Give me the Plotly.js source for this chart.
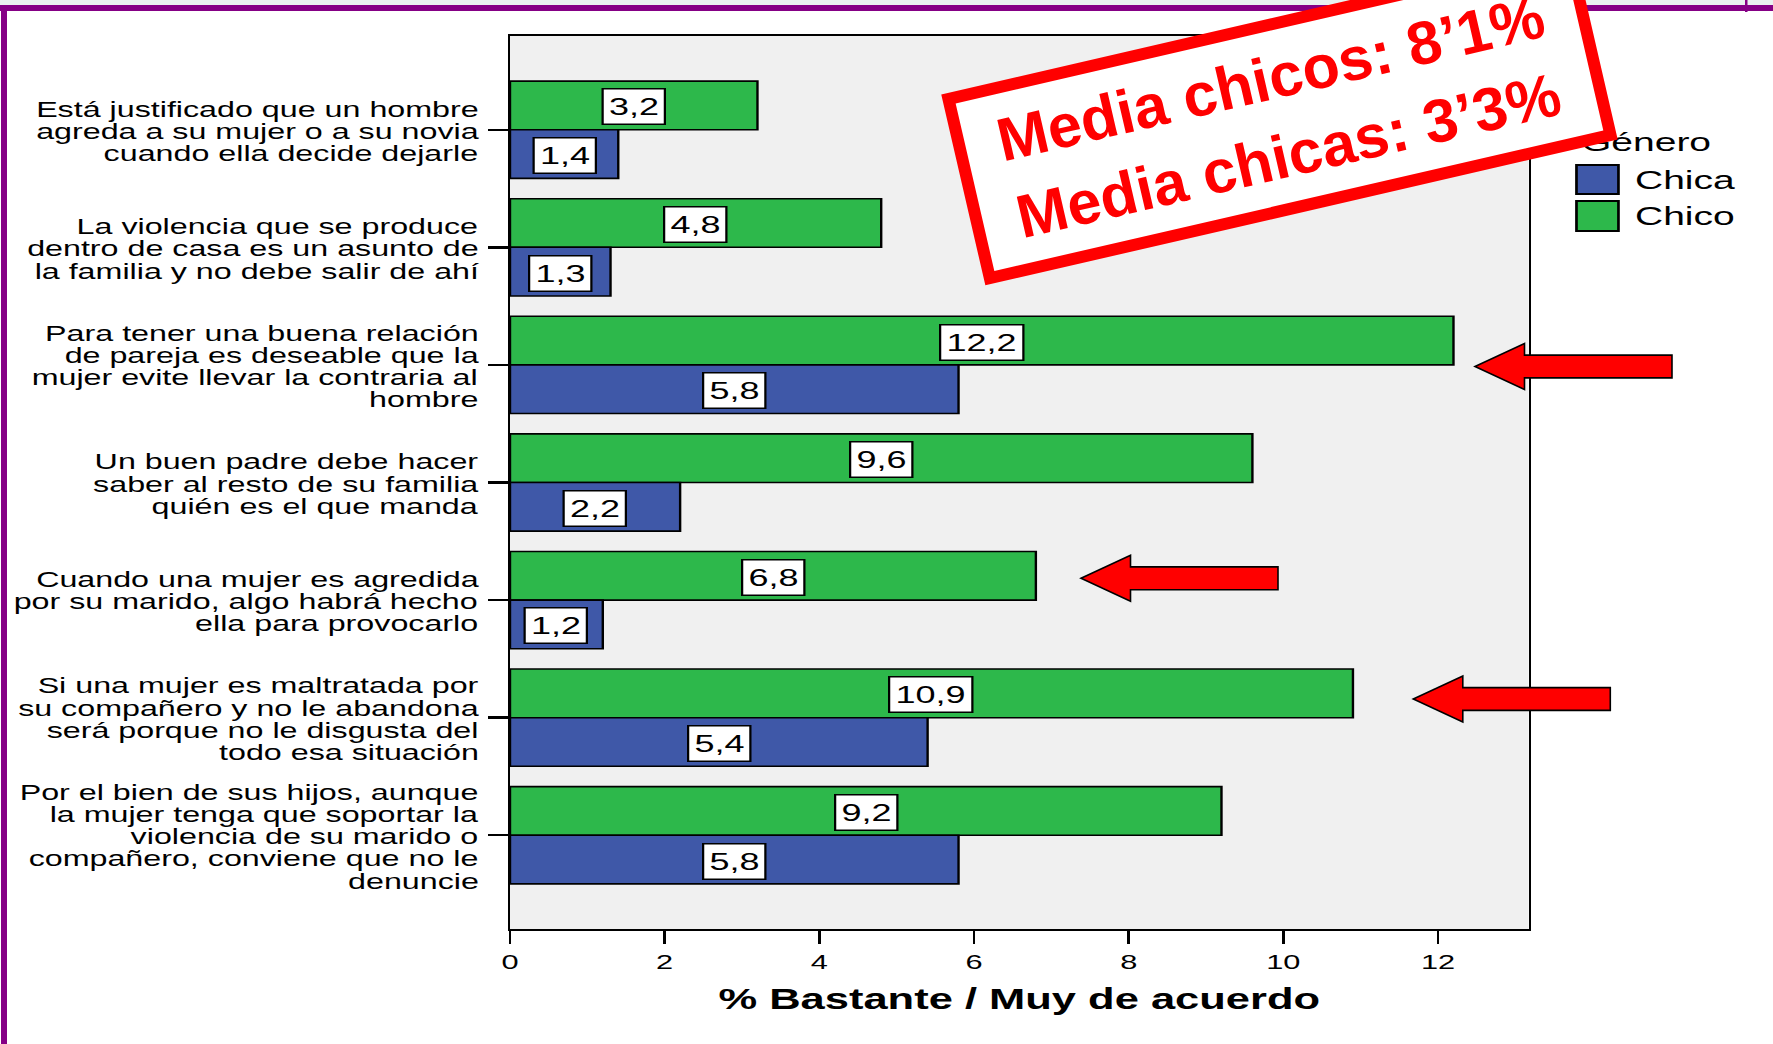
<!DOCTYPE html>
<html>
<head>
<meta charset="utf-8">
<script src="https://cdn.plot.ly/plotly-3.0.1.min.js"></script>
<style>
  html, body { margin: 0; padding: 0; background: #ffffff; overflow: hidden; }
  #chart { position: absolute; left: 0; top: 0; width: 1182px; height: 1044px;
           transform: scaleX(1.5); transform-origin: 0 0; }
  #overlay { position: absolute; left: 0; top: 0; width: 1773px; height: 1044px; }
</style>
</head>
<body>
<div id="chart"></div>
<div id="overlay"></div>
<script>
// ---------------- DATA ----------------
const categoryLines = [
  ["Está justificado que un hombre", "agreda a su mujer o a su novia", "cuando ella decide dejarle"],
  ["La violencia que se produce", "dentro de casa es un asunto de", "la familia y no debe salir de ahí"],
  ["Para tener una buena relación", "de pareja es deseable que la", "mujer evite llevar la contraria al", "hombre"],
  ["Un buen padre debe hacer", "saber al resto de su familia", "quién es el que manda"],
  ["Cuando una mujer es agredida", "por su marido, algo habrá hecho", "ella para provocarlo"],
  ["Si una mujer es maltratada por", "su compañero y no le abandona", "será porque no le disgusta del", "todo esa situación"],
  ["Por el bien de sus hijos, aunque", "la mujer tenga que soportar la", "violencia de su marido o", "compañero, conviene que no le", "denuncie"]
];
const categories = categoryLines.map(l => l.join(" "));
const chicoValues = [3.2, 4.8, 12.2, 9.6, 6.8, 10.9, 9.2];
const chicaValues = [1.4, 1.3, 5.8, 2.2, 1.2, 5.4, 5.8];
const seriesNames = ["Chica", "Chico"];
const legendTitle = "Género";
const xTickValues = [0, 2, 4, 6, 8, 10, 12];
const xTickLabels = ["0", "2", "4", "6", "8", "10", "12"];
const xTitle = "% Bastante / Muy de acuerdo";
const noteLines = ["Media chicos: 8’1%", "Media chicas: 3’3%"];

// ---------------- STYLE ----------------
const GREEN = "#2db84b";
const BLUE = "#3f58a8";
const FONT = "Liberation Sans, Arial, Helvetica, sans-serif";
const SX = 1.5;                 // horizontal stretch of the chart
const CW = 1773 / SX, CH = 1044;
const ML = 510 / SX, MR = CW - 1529 / SX, MT = 36, MB = CH - 929;
const PW = CW - ML - MR, PH = CH - MT - MB;
const BARGAP = 0.173;
const YRANGE = [6.797, -0.797];
const ySpan = Math.abs(YRANGE[0] - YRANGE[1]);
const barOffsetPx = (1 - BARGAP) / 4 * PH / ySpan;

const fmt = v => v.toFixed(1).replace(".", ",");

const traces = [
  { type: "bar", orientation: "h", name: seriesNames[1], y: categories, x: chicoValues,
    marker: { color: GREEN, line: { color: "#000", width: 1.6 } }, hoverinfo: "x" },
  { type: "bar", orientation: "h", name: seriesNames[0], y: categories, x: chicaValues,
    marker: { color: BLUE, line: { color: "#000", width: 1.6 } }, hoverinfo: "x" }
];

const annotations = [];
// value labels (boxed)
function addValueLabels(values, sign) {
  values.forEach((v, i) => {
    annotations.push({
      xref: "x", yref: "y", x: v / 2, y: categories[i], yshift: sign * barOffsetPx - 1.5,
      text: fmt(v), showarrow: false, xanchor: "center", yanchor: "middle",
      font: { family: FONT, size: 24, color: "#000" },
      bgcolor: "#ffffff", bordercolor: "#000", borderwidth: 1.5, borderpad: 3.5
    });
  });
}
addValueLabels(chicoValues, 1);
addValueLabels(chicaValues, -1);

// category labels, one annotation per line for tight line spacing
const LINE_H = 22.2;
categoryLines.forEach((lines, i) => {
  const n = lines.length;
  lines.forEach((t, k) => {
    annotations.push({
      xref: "paper", yref: "y", x: 0, y: categories[i], xshift: -(ML - 481 / SX),
      yshift: ((n - 1) / 2 - k) * LINE_H - 2,
      text: t, showarrow: false, xanchor: "right", yanchor: "middle",
      font: { family: FONT, size: 21.5, color: "#000" }
    });
  });
});

// manual legend
const px2x = fx => (fx / SX - ML) / PW;
const px2y = fy => 1 - (fy - MT) / PH;
const shapes = [
  { type: "rect", xref: "paper", yref: "paper", x0: px2x(1577), x1: px2x(1619), y0: px2y(194), y1: px2y(165),
    fillcolor: BLUE, line: { color: "#000", width: 1.8 }, layer: "above" },
  { type: "rect", xref: "paper", yref: "paper", x0: px2x(1577), x1: px2x(1619), y0: px2y(231), y1: px2y(201),
    fillcolor: GREEN, line: { color: "#000", width: 1.8 }, layer: "above" }
];
annotations.push(
  { xref: "paper", yref: "paper", x: px2x(1578), y: px2y(142), xanchor: "left", yanchor: "middle",
    text: legendTitle, showarrow: false, font: { family: FONT, size: 26, color: "#000" } },
  { xref: "paper", yref: "paper", x: px2x(1633), y: px2y(180), xanchor: "left", yanchor: "middle",
    text: seriesNames[0], showarrow: false, font: { family: FONT, size: 26, color: "#000" } },
  { xref: "paper", yref: "paper", x: px2x(1633), y: px2y(216), xanchor: "left", yanchor: "middle",
    text: seriesNames[1], showarrow: false, font: { family: FONT, size: 26, color: "#000" } }
);

const layout = {
  width: CW, height: CH,
  margin: { l: ML, r: MR, t: MT, b: MB, pad: 0 },
  paper_bgcolor: "#ffffff", plot_bgcolor: "#f0f0f0",
  barmode: "group", bargap: BARGAP, bargroupgap: 0,
  showlegend: false,
  font: { family: FONT, color: "#000" },
  xaxis: {
    range: [0, 13.17], tickmode: "array", tickvals: xTickValues, ticktext: xTickLabels,
    ticks: "outside", ticklen: 13, tickwidth: 1.7, tickcolor: "#000",
    showline: true, linecolor: "#000", linewidth: 2.2, mirror: true,
    showgrid: false, zeroline: false,
    tickfont: { family: FONT, size: 20.5, color: "#000" },
    title: { text: xTitle, font: { family: FONT, size: 29, color: "#000", weight: 700 }, standoff: 17 }
  },
  yaxis: {
    type: "category", range: YRANGE, showticklabels: false,
    ticks: "outside", ticklen: 20 / SX, tickwidth: 2.4, tickcolor: "#000",
    showline: true, linecolor: "#000", linewidth: 1.6, mirror: true,
    showgrid: false, zeroline: false
  },
  annotations: annotations,
  shapes: shapes
};

Plotly.newPlot("chart", traces, layout, { displayModeBar: false, staticPlot: true });

// ---------------- OVERLAY (unstretched decorations) ----------------
const OW = 1773, OH = 1044;
const ox = v => v / OW, oy = v => 1 - v / OH;
const arrows = [ // tip x, tip y (page pixels)
  [1475, 366.5], [1081, 578.3], [1413.3, 699]
];
function arrowPath(tx, ty) {
  const L = 49.5, HH = 23, SH = 11.4, T = 197;
  const pts = [[tx, ty], [tx + L, ty - HH], [tx + L, ty - SH], [tx + T, ty - SH],
               [tx + T, ty + SH], [tx + L, ty + SH], [tx + L, ty + HH]];
  return "M" + pts.map(p => ox(p[0]).toFixed(5) + "," + oy(p[1]).toFixed(5)).join(" L") + " Z";
}
const oShapes = [
  { type: "rect", xref: "paper", yref: "paper", x0: 0, x1: 1, y0: oy(5), y1: 1,
    fillcolor: "#e9f2f0", line: { width: 0 } },
  { type: "rect", xref: "paper", yref: "paper", x0: 0, x1: 1, y0: oy(11), y1: oy(5),
    fillcolor: "#850085", line: { width: 0 } },
  { type: "rect", xref: "paper", yref: "paper", x0: ox(1), x1: ox(7), y0: 0, y1: oy(5),
    fillcolor: "#850085", line: { width: 0 } },
  { type: "rect", xref: "paper", yref: "paper", x0: ox(1745), x1: ox(1747.5), y0: oy(12), y1: 1,
    fillcolor: "#850085", line: { width: 0 } }
].concat(arrows.map(a => ({
  type: "path", xref: "paper", yref: "paper", path: arrowPath(a[0], a[1]),
  fillcolor: "#ff0000", line: { color: "#000", width: 1.6 }
})));

const oLayout = {
  width: OW, height: OH, margin: { l: 0, r: 0, t: 0, b: 0, pad: 0 },
  paper_bgcolor: "rgba(0,0,0,0)", plot_bgcolor: "rgba(0,0,0,0)",
  xaxis: { visible: false, range: [0, 1], fixedrange: true },
  yaxis: { visible: false, range: [0, 1], fixedrange: true },
  showlegend: false,
  shapes: oShapes,
  annotations: [{
    xref: "paper", yref: "paper", x: ox(1279), y: oy(117), xanchor: "center", yanchor: "middle",
    text: noteLines.join("<br>"), showarrow: false, textangle: -13, align: "center",
    font: { family: FONT, size: 61, color: "#ff0000", weight: 700 },
    bgcolor: "#ffffff", bordercolor: "#ff0000", borderwidth: 12, borderpad: 4,
    width: 617, height: 164
  }]
};
Plotly.newPlot("overlay", [], oLayout, { displayModeBar: false, staticPlot: true });
</script>
</body>
</html>
